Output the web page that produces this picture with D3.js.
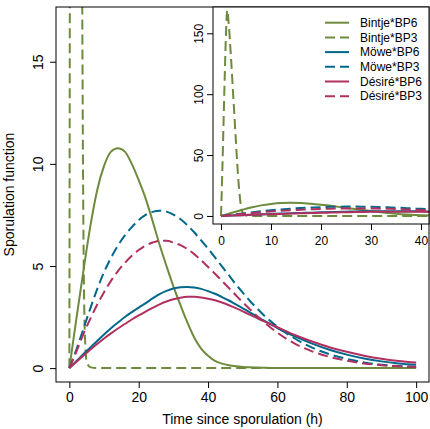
<!DOCTYPE html>
<html>
<head>
<meta charset="utf-8">
<script src="https://cdn.jsdelivr.net/npm/d3@7"></script>
<style>
  body { margin: 0; background: #ffffff; }
  svg { display: block; font-family: "Liberation Sans", Arial, sans-serif; }
</style>
</head>
<body>
<div id="chart"></div>
<script>
/* time grid (h) shared by the smooth curves */
var hours = [0, 2, 4, 6, 8, 10, 12, 14, 16, 18, 20, 22, 24, 26, 28, 30, 32, 34, 36, 38, 40,
             42, 44, 46, 48, 50, 52, 54, 56, 58, 60, 65, 70, 75, 80, 85, 90, 95, 100];

var bintjeBP6 = [0, 2.4, 4.7, 6.9, 8.7, 9.9, 10.6, 10.77, 10.6, 10.0, 9.2, 8.3, 7.2, 6.05, 5.0, 4.0, 3.1, 2.25, 1.5, 0.95, 0.6,
                 0.35, 0.22, 0.14, 0.09, 0.06, 0.04, 0.03, 0.02, 0.01, 0.01, 0, 0, 0, 0, 0, 0, 0, 0];
var moweBP6 = [0, 0.34, 0.68, 1.0, 1.33, 1.65, 1.95, 2.23, 2.5, 2.74, 2.96, 3.18, 3.41, 3.62, 3.78, 3.9, 3.96, 3.97, 3.95, 3.88, 3.77,
               3.64, 3.48, 3.31, 3.12, 2.93, 2.73, 2.53, 2.34, 2.15, 1.96, 1.55, 1.2, 0.9, 0.66, 0.47, 0.33, 0.23, 0.16];
var moweBP3 = [0, 0.9, 1.9, 2.9, 3.85, 4.7, 5.4, 6.0, 6.5, 6.9, 7.25, 7.5, 7.65, 7.71, 7.66, 7.52, 7.3, 7.0, 6.65, 6.25, 5.85,
               5.42, 4.98, 4.55, 4.1, 3.7, 3.3, 2.95, 2.6, 2.3, 2.02, 1.45, 1.0, 0.68, 0.45, 0.28, 0.17, 0.1, 0.06];
var desireBP6 = [0, 0.3, 0.6, 0.9, 1.18, 1.45, 1.7, 1.94, 2.16, 2.38, 2.58, 2.77, 2.95, 3.12, 3.26, 3.37, 3.45, 3.49, 3.49, 3.46, 3.4,
                 3.32, 3.21, 3.08, 2.94, 2.78, 2.62, 2.46, 2.3, 2.15, 2.0, 1.62, 1.3, 1.02, 0.8, 0.61, 0.46, 0.35, 0.27];
var desireBP3 = [0, 0.8, 1.65, 2.4, 3.1, 3.72, 4.27, 4.75, 5.15, 5.5, 5.78, 6.0, 6.15, 6.23, 6.23, 6.15, 6.02, 5.83, 5.58, 5.28, 4.95,
                 4.62, 4.27, 3.92, 3.57, 3.22, 2.89, 2.57, 2.27, 1.99, 1.73, 1.2, 0.82, 0.55, 0.36, 0.23, 0.14, 0.09, 0.05];

/* Bintje BP3 has a very narrow peak, so it has its own time points */
var bintjeBP3Hours = [0, 0.25, 0.5, 0.75, 1, 1.25, 1.5, 2, 2.5, 3, 3.5, 4, 4.5, 5, 6, 8, 10, 20, 40, 60, 80, 100];
var bintjeBP3 = [0, 35, 75, 115, 150, 169, 160, 130, 95, 60, 28, 8, 1.5, 0.3, 0.05, 0, 0, 0, 0, 0, 0, 0];

var seriesNames = ["Bintje*BP6", "Bintje*BP3", "Möwe*BP6", "Möwe*BP3", "Désiré*BP6", "Désiré*BP3"];
var seriesColors = ["#6E8B3D", "#6E8B3D", "#00688B", "#00688B", "#B03060", "#B03060"];
var seriesDashed = [false, true, false, true, false, true];

var mainXTicks = [0, 20, 40, 60, 80, 100];
var mainYTicks = [0, 5, 10, 15];
var insetXTicks = [0, 10, 20, 30, 40];
var insetYTicks = [0, 50, 100, 150];

/* build the series table */
var series = [
    { t: hours, v: bintjeBP6 },
    { t: bintjeBP3Hours, v: bintjeBP3 },
    { t: hours, v: moweBP6 },
    { t: hours, v: moweBP3 },
    { t: hours, v: desireBP6 },
    { t: hours, v: desireBP3 }
].map(function(s, i) {
    return {
        name: seriesNames[i],
        color: seriesColors[i],
        dashed: seriesDashed[i],
        points: s.t.map(function(t, j) { return { t: t, v: s.v[j] }; })
    };
});

var W = 430, H = 429;
var svg = d3.select("#chart").append("svg")
    .attr("width", W)
    .attr("height", H);

svg.append("rect").attr("width", W).attr("height", H).attr("fill", "#ffffff");

/* main plot region */
var plot = { left: 56, right: 429, top: 7, bottom: 382 };

var x = d3.scaleLinear().domain([-4, 104]).range([55.5, 430]);
var y = d3.scaleLinear().domain([-0.68, 17.68]).range([382, 7]);

svg.append("clipPath").attr("id", "clipMain")
    .append("rect")
    .attr("x", plot.left).attr("y", plot.top)
    .attr("width", plot.right - plot.left).attr("height", plot.bottom - plot.top);

function drawLines(g, xs, ys) {
    var line = d3.line()
        .x(function(d) { return xs(d.t); })
        .y(function(d) { return ys(d.v); })
        .curve(d3.curveMonotoneX);
    g.selectAll("path.curve")
        .data(series)
        .enter().append("path")
        .attr("class", "curve")
        .attr("d", function(d) { return line(d.points); })
        .attr("fill", "none")
        .attr("stroke", function(d) { return d.color; })
        .attr("stroke-width", 2)
        .attr("stroke-dasharray", function(d) { return d.dashed ? "10,5" : null; })
        .attr("stroke-linejoin", "round");
}

drawLines(svg.append("g").attr("clip-path", "url(#clipMain)"), x, y);

/* main axes */
var xAxis = svg.append("g")
    .attr("transform", "translate(0," + plot.bottom + ")")
    .call(d3.axisBottom(x).tickValues(mainXTicks).tickSize(6).tickPadding(4));
xAxis.select(".domain").remove();
xAxis.selectAll("text").style("font-size", "14px").attr("fill", "#000");

var yAxis = svg.append("g")
    .attr("transform", "translate(" + plot.left + ",0)")
    .call(d3.axisLeft(y).tickValues(mainYTicks).tickSize(6));
yAxis.select(".domain").remove();
yAxis.selectAll("text")
    .style("font-size", "14px")
    .attr("fill", "#000")
    .attr("x", 0)
    .attr("dy", 0)
    .attr("text-anchor", "middle")
    .attr("transform", "translate(-13,0) rotate(-90)");

svg.append("rect")
    .attr("x", plot.left).attr("y", plot.top)
    .attr("width", plot.right - plot.left).attr("height", plot.bottom - plot.top)
    .attr("fill", "none").attr("stroke", "#000").attr("stroke-width", 1);

svg.append("text")
    .attr("x", (plot.left + plot.right) / 2)
    .attr("y", 424)
    .attr("text-anchor", "middle")
    .style("font-size", "14px")
    .text("Time since sporulation (h)");

svg.append("text")
    .attr("transform", "translate(14," + (plot.top + plot.bottom) / 2 + ") rotate(-90)")
    .attr("text-anchor", "middle")
    .style("font-size", "14px")
    .text("Sporulation function");

/* inset plot */
var inset = { left: 213, right: 429, top: 7, bottom: 224 };
var xi = d3.scaleLinear().domain([-1.6, 41.6]).range([inset.left, inset.right]);
var yi = d3.scaleLinear().domain([-6.6, 171.6]).range([inset.bottom, inset.top]);

svg.append("rect")
    .attr("x", inset.left).attr("y", inset.top)
    .attr("width", inset.right - inset.left).attr("height", inset.bottom - inset.top)
    .attr("fill", "#ffffff");

svg.append("clipPath").attr("id", "clipInset")
    .append("rect")
    .attr("x", inset.left).attr("y", inset.top)
    .attr("width", inset.right - inset.left).attr("height", inset.bottom - inset.top);

drawLines(svg.append("g").attr("clip-path", "url(#clipInset)"), xi, yi);

var xiAxis = svg.append("g")
    .attr("transform", "translate(0," + inset.bottom + ")")
    .call(d3.axisBottom(xi).tickValues(insetXTicks).tickSize(6).tickPadding(6));
xiAxis.select(".domain").remove();
xiAxis.selectAll("text").style("font-size", "12px").attr("fill", "#000");

var yiAxis = svg.append("g")
    .attr("transform", "translate(" + inset.left + ",0)")
    .call(d3.axisLeft(yi).tickValues(insetYTicks).tickSize(6));
yiAxis.select(".domain").remove();
yiAxis.selectAll("text")
    .style("font-size", "12px")
    .attr("fill", "#000")
    .attr("x", 0)
    .attr("dy", 0)
    .attr("text-anchor", "middle")
    .attr("transform", "translate(-10,0) rotate(-90)");

svg.append("rect")
    .attr("x", inset.left).attr("y", inset.top)
    .attr("width", inset.right - inset.left).attr("height", inset.bottom - inset.top)
    .attr("fill", "none").attr("stroke", "#000").attr("stroke-width", 1);

/* legend */
var legend = svg.selectAll(".legend")
    .data(series)
    .enter().append("g")
    .attr("class", "legend")
    .attr("transform", function(d, i) { return "translate(325," + (22.7 + i * 14.7) + ")"; });

legend.append("line")
    .attr("x1", 0).attr("x2", 24)
    .attr("stroke", function(d) { return d.color; })
    .attr("stroke-width", 2)
    .attr("stroke-dasharray", function(d) { return d.dashed ? "10,5" : null; });

legend.append("text")
    .attr("x", 35)
    .attr("dy", "0.35em")
    .style("font-size", "12px")
    .text(function(d) { return d.name; });
</script>
</body>
</html>
